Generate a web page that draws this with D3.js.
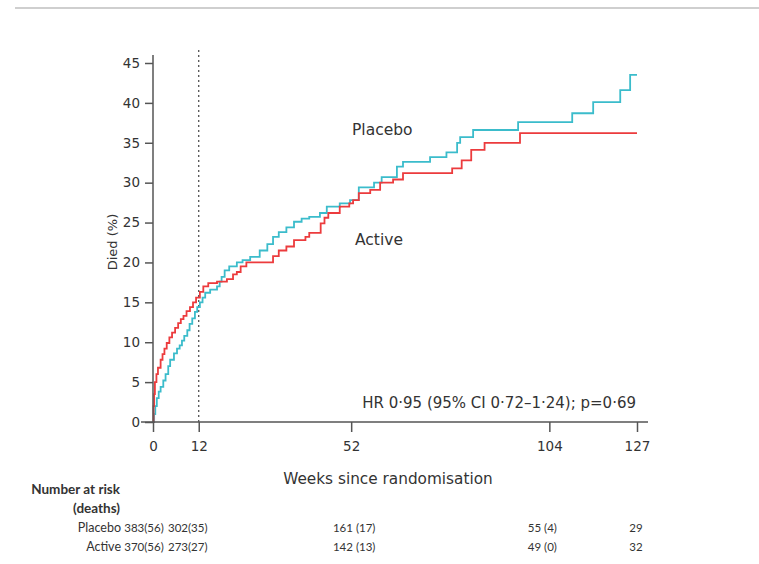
<!DOCTYPE html>
<html>
<head>
<meta charset="utf-8">
<script src="https://cdn.jsdelivr.net/npm/d3@7"></script>
<style>
  body { margin: 0; background: #fff; }
  text { font-family: "DejaVu Sans", sans-serif; fill: #333; }
  .risk { font-family: Lato, sans-serif; }
</style>
</head>
<body>
<svg width="759" height="564"></svg>
<script>
// cumulative deaths (%) by week
const placeboWeeks = [0, 0.3, 0.6, 1, 1.5, 2, 2.7, 3.3, 4, 4.5, 5.5, 6.3, 7, 7.6, 8.2, 9, 9.6, 10.3, 11, 11.6, 12.3, 13, 13.7, 15, 16.8, 17.5, 18, 18.8, 20, 22, 23.5, 25.5, 28, 30, 31.5, 33, 35, 37, 39, 41, 43.8, 45.6, 49, 51.7, 54, 58, 60, 64, 65.6, 72.7, 77, 79.8, 80.6, 84, 95.8, 110, 115.5, 122.6, 125.2, 127];
const placeboDied  = [0, 1, 2, 3, 3.8, 4.4, 5.2, 6, 7, 7.8, 8.6, 9.2, 9.6, 10.2, 10.8, 11.5, 12.3, 13, 13.8, 14.4, 15.0, 15.6, 16.2, 16.6, 17.0, 17.6, 18.2, 19.0, 19.5, 20.0, 20.3, 20.7, 21.5, 22.3, 23.2, 23.8, 24.4, 25.1, 25.5, 25.7, 26.2, 27.0, 27.4, 27.8, 29.4, 30.0, 30.7, 32.0, 32.6, 33.2, 33.8, 35.0, 35.7, 36.6, 37.6, 38.7, 40.1, 41.6, 43.5, 43.5];

const activeWeeks = [0, 0.15, 0.3, 0.5, 0.9, 1.3, 2, 2.5, 3, 3.6, 4.3, 5, 5.8, 6.6, 7.3, 8, 8.8, 9.7, 10.5, 11.3, 12.3, 13.2, 14.5, 16.8, 19.4, 21, 22, 23, 24.5, 31.5, 33, 35, 37, 40, 41, 44, 45, 46, 49, 51.5, 52.5, 54, 57, 59.6, 63, 65.6, 78.5, 81, 83.5, 87, 96.3, 127];
const activeDied  = [0, 2, 3.5, 5, 6, 6.8, 7.8, 8.5, 9.2, 9.9, 10.6, 11.2, 11.8, 12.4, 12.9, 13.3, 13.9, 14.4, 15.0, 15.6, 16.3, 17.0, 17.4, 17.6, 17.9, 18.5, 18.8, 19.5, 20.0, 20.8, 21.5, 22.0, 22.8, 23.2, 23.7, 24.9, 25.6, 26.2, 27.0, 27.4, 27.8, 28.7, 29.1, 30.0, 30.4, 31.2, 31.8, 32.8, 34.1, 35.0, 36.2, 36.2];

const xTicks = [0, 12, 52, 104, 127];
const yTicks = [0, 5, 10, 15, 20, 25, 30, 35, 40, 45];

const riskGroups = ["Placebo", "Active"];
const riskPlacebo = ["383(56)", "302(35)", "161 (17)", "55 (4)", "29"];
const riskActive  = ["370(56)", "273(27)", "142 (13)", "49 (0)", "32"];

const svg = d3.select("svg");

const x = d3.scaleLinear().domain([0, 127]).range([153, 637]);
const y = d3.scaleLinear().domain([0, 45]).range([422, 63]);

// top rule
svg.append("line")
  .attr("x1", 15).attr("x2", 759).attr("y1", 8).attr("y2", 8)
  .attr("stroke", "#cfcfcf").attr("stroke-width", 2);

// dotted line at 12 weeks
svg.append("line")
  .attr("x1", x(12)).attr("x2", x(12)).attr("y1", 50).attr("y2", y(0))
  .attr("stroke", "#444").attr("stroke-width", 1.2)
  .attr("stroke-dasharray", "2,3");

const line = d3.line()
  .x(d => x(d[0])).y(d => y(d[1]))
  .curve(d3.curveStepAfter);

svg.append("path")
  .datum(d3.zip(placeboWeeks, placeboDied))
  .attr("d", line)
  .attr("fill", "none")
  .attr("stroke", "#3bbccb")
  .attr("stroke-width", 1.8);

svg.append("path")
  .datum(d3.zip(activeWeeks, activeDied))
  .attr("d", line)
  .attr("fill", "none")
  .attr("stroke", "#ec3b3d")
  .attr("stroke-width", 1.8);

// axes
const yAxis = svg.append("g")
  .attr("transform", "translate(153,0)")
  .call(d3.axisLeft(y).tickValues(yTicks).tickSize(8).tickPadding(5));
const xAxis = svg.append("g")
  .attr("transform", "translate(0,422)")
  .call(d3.axisBottom(x).tickValues(xTicks).tickSize(10).tickPadding(9));

[yAxis, xAxis].forEach(g => {
  g.select(".domain").remove();
  g.selectAll(".tick line").attr("stroke", "#555").attr("stroke-width", 1.5);
  g.selectAll(".tick text")
    .attr("font-family", "DejaVu Sans, sans-serif")
    .attr("font-size", 13.5).attr("fill", "#444");
});

svg.append("line")
  .attr("x1", 153).attr("x2", 153).attr("y1", 55).attr("y2", 422)
  .attr("stroke", "#555").attr("stroke-width", 1.5);
svg.append("line")
  .attr("x1", 141).attr("x2", 648).attr("y1", 422).attr("y2", 422)
  .attr("stroke", "#555").attr("stroke-width", 1.5);

// labels
svg.append("text")
  .attr("transform", "translate(117,242) rotate(-90)")
  .attr("text-anchor", "middle")
  .attr("font-size", 13)
  .text("Died (%)");

svg.append("text")
  .attr("x", 388).attr("y", 484)
  .attr("text-anchor", "middle")
  .attr("font-size", 15.3)
  .text("Weeks since randomisation");

svg.append("text").attr("x", 352).attr("y", 135).attr("font-size", 15.5).text("Placebo");
svg.append("text").attr("x", 355).attr("y", 245).attr("font-size", 15.5).text("Active");

svg.append("text")
  .attr("x", 636).attr("y", 408)
  .attr("text-anchor", "end")
  .attr("font-size", 15)
  .text("HR 0·95 (95% CI 0·72–1·24); p=0·69");

// number at risk table
svg.append("text").attr("class", "risk").attr("x", 120).attr("y", 494)
  .attr("text-anchor", "end")
  .attr("font-size", 13.5).attr("font-weight", "bold")
  .text("Number at risk");
svg.append("text").attr("class", "risk").attr("x", 120).attr("y", 513)
  .attr("text-anchor", "end")
  .attr("font-size", 13.5).attr("font-weight", "bold")
  .text("(deaths)");

const colShift = [-9, -11, 3, -7, -1];
[riskPlacebo, riskActive].forEach((row, i) => {
  const ry = 532 + i * 19;
  svg.append("text").attr("class", "risk").attr("x", 121).attr("y", ry)
    .attr("text-anchor", "end")
    .attr("font-size", 12.5).text(riskGroups[i]);
  svg.selectAll(null)
    .data(row)
    .enter().append("text")
    .attr("class", "risk")
    .attr("x", (d, j) => x(xTicks[j]) + colShift[j])
    .attr("y", ry)
    .attr("text-anchor", "middle")
    .attr("font-size", 11.5)
    .text(d => d);
});
</script>
</body>
</html>
